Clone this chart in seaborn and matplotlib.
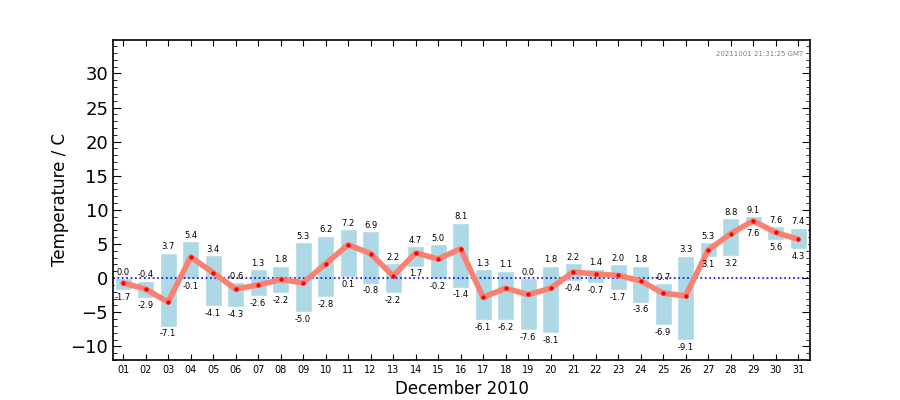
import numpy as np
import pandas as pd
import matplotlib
matplotlib.use("Agg")
import matplotlib.pyplot as plt
import seaborn as sns
from matplotlib.ticker import MultipleLocator

days = list(range(1, 32))
tmax = [0.0, -0.4, 3.7, 5.4, 3.4, -0.6, 1.3, 1.8, 5.3, 6.2, 7.2, 6.9, 2.2, 4.7, 5.0, 8.1,
        1.3, 1.1, 0.0, 1.8, 2.2, 1.4, 2.0, 1.8, -0.7, 3.3, 5.3, 8.8, 9.1, 7.6, 7.4]
tmin = [-1.7, -2.9, -7.1, -0.1, -4.1, -4.3, -2.6, -2.2, -5.0, -2.8, 0.1, -0.8, -2.2, 1.7, -0.2, -1.4,
        -6.1, -6.2, -7.6, -8.1, -0.4, -0.7, -1.7, -3.6, -6.9, -9.1, 3.1, 3.2, 7.6, 5.6, 4.3]
tmean = [-0.7, -1.6, -3.5, 3.1, 0.8, -1.6, -1.0, -0.2, -0.7, 2.1, 4.9, 3.6, 0.3, 3.7, 2.8, 4.3,
         -2.8, -1.5, -2.4, -1.5, 0.9, 0.6, 0.4, -0.4, -2.2, -2.6, 4.1, 6.5, 8.4, 6.7, 5.7]
day_labels = ["%02d" % d for d in days]
stamp = "20211001 21:31:25 GMT"

df = pd.DataFrame({"day": days, "tmax": tmax, "tmin": tmin, "tmean": tmean})

sns.set_style("ticks", {"xtick.direction": "in", "ytick.direction": "in",
                        "text.color": "black", "axes.labelcolor": "black",
                        "xtick.color": "black", "ytick.color": "black"})
plt.rcParams['font.family'] = ['DejaVu Sans']

fig = plt.figure(figsize=(9, 4), dpi=100)
ax = fig.add_axes([0.1256, 0.1, 0.7744, 0.8])

ax.bar(df["day"], df["tmax"] - df["tmin"], bottom=df["tmin"], width=0.75,
       color="lightblue", zorder=1)
ax.axhline(0, color="blue", linestyle=":", linewidth=1.2, zorder=2)
sns.lineplot(data=df, x="day", y="tmean", ax=ax, color="salmon", linewidth=4, zorder=3)
sns.scatterplot(data=df, x="day", y="tmean", ax=ax, color="red", s=10, linewidth=0, zorder=4)

for d, hi, lo in zip(days, tmax, tmin):
    ax.annotate("%.1f" % hi, (d, hi), xytext=(0, 1), textcoords="offset points",
                ha="center", va="bottom", fontsize=6)
    ax.annotate("%.1f" % lo, (d, lo), xytext=(0, -2), textcoords="offset points",
                ha="center", va="top", fontsize=6)

ax.text(0.99, 0.955, stamp, transform=ax.transAxes, ha="right", va="center",
        fontsize=5, color="gray")

ax.set_xlim(0.55, 31.53)
ax.set_ylim(-12, 34.9)
ax.set_xticks(days)
ax.set_xticklabels(day_labels, fontsize=7)
ax.yaxis.set_major_locator(MultipleLocator(5))
ax.yaxis.set_minor_locator(MultipleLocator(1))
ax.tick_params(axis="y", which="major", labelsize=13, length=6, right=True)
ax.tick_params(axis="y", which="minor", length=3, right=True)
ax.tick_params(axis="x", which="major", length=4, top=True)
ax.set_xlabel("December 2010", fontsize=12)
ax.set_ylabel("Temperature / C", fontsize=12, labelpad=1)
for s in ax.spines.values():
    s.set_linewidth(1.2)
    s.set_color("black")

fig.savefig("out.png", dpi=100)
